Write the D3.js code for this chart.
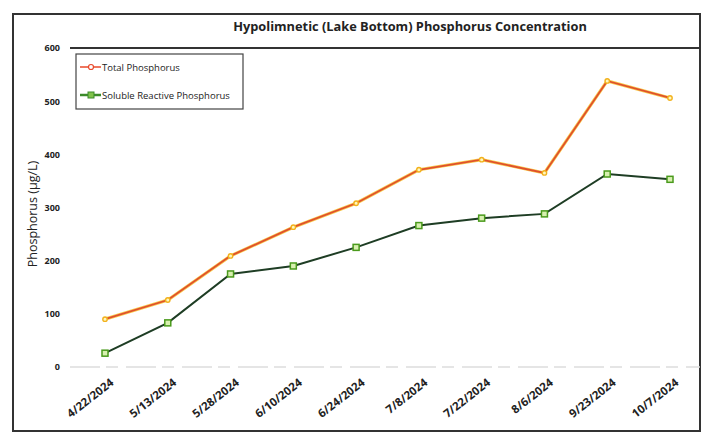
<!DOCTYPE html>
<html><head><meta charset="utf-8">
<script src="https://cdn.jsdelivr.net/npm/d3@7"></script>
<style>body{margin:0;background:#fff;}svg{display:block;}</style>
</head><body>
<script>
const dates = ["4/22/2024","5/13/2024","5/28/2024","6/10/2024","6/24/2024","7/8/2024","7/22/2024","8/6/2024","9/23/2024","10/7/2024"];
const totalP = [90,126,209,263,308,371,390,365,538,506];
const srp = [26,83,175,190,225,266,280,288,363,353];
const yTicks = [0,100,200,300,400,500,600];
const seriesNames = ["Total Phosphorus","Soluble Reactive Phosphorus"];

const W=704,H=434;
const svg=d3.select("body").append("svg").attr("width",W).attr("height",H);
const font="'Open Sans', 'Noto Sans', sans-serif";

// outer border
svg.append("rect").attr("x",13).attr("y",14).attr("width",687).attr("height",417)
  .attr("fill","none").attr("stroke","#333").attr("stroke-width",2);

const x=d3.scalePoint().domain(dates).range([105,670]);
const y=d3.scaleLinear().domain([0,600]).range([367,48]);

// plot area top line
svg.append("line").attr("x1",70).attr("x2",700).attr("y1",y(600)).attr("y2",y(600))
  .attr("stroke","#333").attr("stroke-width",2);
// faint bottom axis
svg.append("line").attr("x1",70).attr("x2",700).attr("y1",y(0)).attr("y2",y(0))
  .attr("stroke","#ddd").attr("stroke-width",1.5).attr("stroke-dasharray","30,6,12,8");

// title
svg.append("text").attr("x",410).attr("y",31).attr("text-anchor","middle")
  .attr("font-family",font).attr("font-weight","bold").attr("font-size",12.8).attr("fill","#222")
  .text("Hypolimnetic (Lake Bottom) Phosphorus Concentration");

// y axis
const yAxis=d3.axisLeft(y).tickValues(yTicks).tickSize(0).tickPadding(0);
const yg=svg.append("g").attr("transform","translate(60,0)").call(yAxis);
yg.select(".domain").remove();
yg.selectAll("text").attr("font-family",font).attr("font-weight","bold").attr("font-size",9).attr("fill","#222");

svg.append("text").attr("transform","translate(37,214) rotate(-90)").attr("text-anchor","middle")
  .attr("font-family",font).attr("font-size",12.5).attr("fill","#222").text("Phosphorus (µg/L)");

// x axis
const xAxis=d3.axisBottom(x).tickSize(0).tickPadding(0);
const xg=svg.append("g").attr("transform","translate(0,"+y(0)+")").call(xAxis);
xg.select(".domain").remove();
xg.selectAll("text").attr("font-family",font).attr("font-weight","bold").attr("font-size",11.5).attr("fill","#222")
  .attr("text-anchor","end").attr("dy",null).attr("y",0)
  .attr("transform","translate(9,17) rotate(-38)");

// lines
const line=d3.line().x((d,i)=>x(dates[i])).y(d=>y(d));
svg.append("path").datum(totalP).attr("d",line).attr("fill","none").attr("stroke","#f4b400").attr("stroke-width",3.2).attr("opacity",0.7);
svg.append("path").datum(totalP).attr("d",line).attr("fill","none").attr("stroke","#e0502c").attr("stroke-width",1.8);
svg.append("path").datum(srp).attr("d",line).attr("fill","none").attr("stroke","#1e3d24").attr("stroke-width",2);

svg.selectAll(".tp").data(totalP).enter().append("circle")
  .attr("cx",(d,i)=>x(dates[i])).attr("cy",d=>y(d)).attr("r",2.2)
  .attr("fill","#fff6c0").attr("stroke","#f2b21d").attr("stroke-width",1.4);
svg.selectAll(".sr").data(srp).enter().append("rect")
  .attr("x",(d,i)=>x(dates[i])-3).attr("y",d=>y(d)-3).attr("width",6).attr("height",6)
  .attr("fill","#d8f0b0").attr("stroke","#4a9a1c").attr("stroke-width",1.5);

// legend
svg.append("rect").attr("x",76).attr("y",54).attr("width",167).attr("height",55)
  .attr("fill","#fff").attr("stroke","#444").attr("stroke-width",1.2);
const lg=[{n:seriesNames[0],y:67,c:"#e8482a"},{n:seriesNames[1],y:95,c:"#3b8a2a"}];
lg.forEach((d,i)=>{
  svg.append("line").attr("x1",80).attr("x2",101).attr("y1",d.y).attr("y2",d.y).attr("stroke",d.c).attr("stroke-width",i?2.5:1.5);
  if(i==0) svg.append("circle").attr("cx",91).attr("cy",d.y).attr("r",2.5).attr("fill","#fff").attr("stroke",d.c).attr("stroke-width",1.2);
  else svg.append("rect").attr("x",88).attr("y",d.y-3).attr("width",6).attr("height",6).attr("fill","#7fc24a").attr("stroke",d.c);
  svg.append("text").attr("x",102).attr("y",d.y+3.5).attr("font-family",font).attr("font-size",9.5).attr("fill","#222").text(d.n);
});
</script>
</body></html>
